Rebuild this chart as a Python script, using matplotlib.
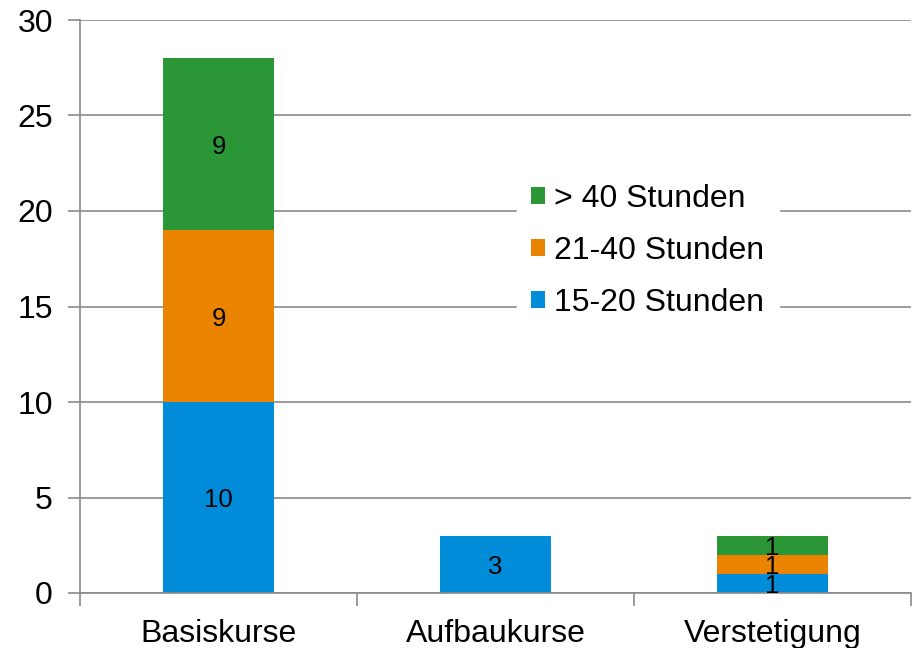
import matplotlib
matplotlib.use("Agg")
import matplotlib.pyplot as plt
import numpy as np

plt.rcParams['font.family'] = ['Liberation Sans', 'DejaVu Sans']

categories = ["Basiskurse", "Aufbaukurse", "Verstetigung"]
series_names = ["15-20 Stunden", "21-40 Stunden", "> 40 Stunden"]
h15_20 = [10, 3, 1]
h21_40 = [9, 0, 1]
h40plus = [9, 0, 1]
colors = ["#008cd8", "#e98300", "#2a9636"]

fig = plt.figure(figsize=(9.13, 6.48), dpi=100)
ax = fig.add_axes([80 / 913, 1 - 593 / 648, 831 / 913, 573 / 648])

x = np.arange(len(categories))
bottom = np.zeros(len(categories))
for name, vals, col in zip(series_names, [h15_20, h21_40, h40plus], colors):
    vals = np.array(vals, dtype=float)
    ax.bar(x, vals, 0.4, bottom=bottom, color=col, label=name, zorder=2)
    for xi, v, bt in zip(x, vals, bottom):
        if v > 0:
            ax.text(xi, bt + v / 2, f"{int(v)}", ha="center", va="center_baseline",
                    fontsize=18.5, color="black", zorder=3)
    bottom += vals

ax.set_xlim(-0.5, 2.5)
ax.set_ylim(0, 30)
ax.set_yticks(range(0, 31, 5))
ax.yaxis.grid(True, color="#8a8a8a", linewidth=1.2, zorder=0)
ax.set_axisbelow(True)

for s in ["top", "right"]:
    ax.spines[s].set_visible(False)
for s in ["left", "bottom"]:
    ax.spines[s].set_color("#8a8a8a")
    ax.spines[s].set_linewidth(1.2)

ax.set_xticks(x)
ax.set_xticklabels(categories, fontsize=23)
ax.tick_params(axis="x", length=0, pad=19)
ax.set_xticks([-0.5, 0.5, 1.5, 2.5], minor=True)
ax.tick_params(axis="x", which="minor", length=9, color="#8a8a8a", width=1.2)
ax.tick_params(axis="y", labelsize=23, length=9, color="#8a8a8a", width=1.2, pad=10.5)

handles, labels = ax.get_legend_handles_labels()
leg = ax.legend(handles[::-1], labels[::-1], loc="center left",
                bbox_to_anchor=((501 - 80) / 831, (593 - 251) / 573),
                frameon=True, fontsize=23, handlelength=0.42, handleheight=0.42,
                handletextpad=0.3, labelspacing=0.69, borderpad=0.45,
                fancybox=False)
leg.get_frame().set_edgecolor("white")
leg.get_frame().set_facecolor("white")
leg.get_frame().set_alpha(1)

fig.savefig("out.png", dpi=100)
